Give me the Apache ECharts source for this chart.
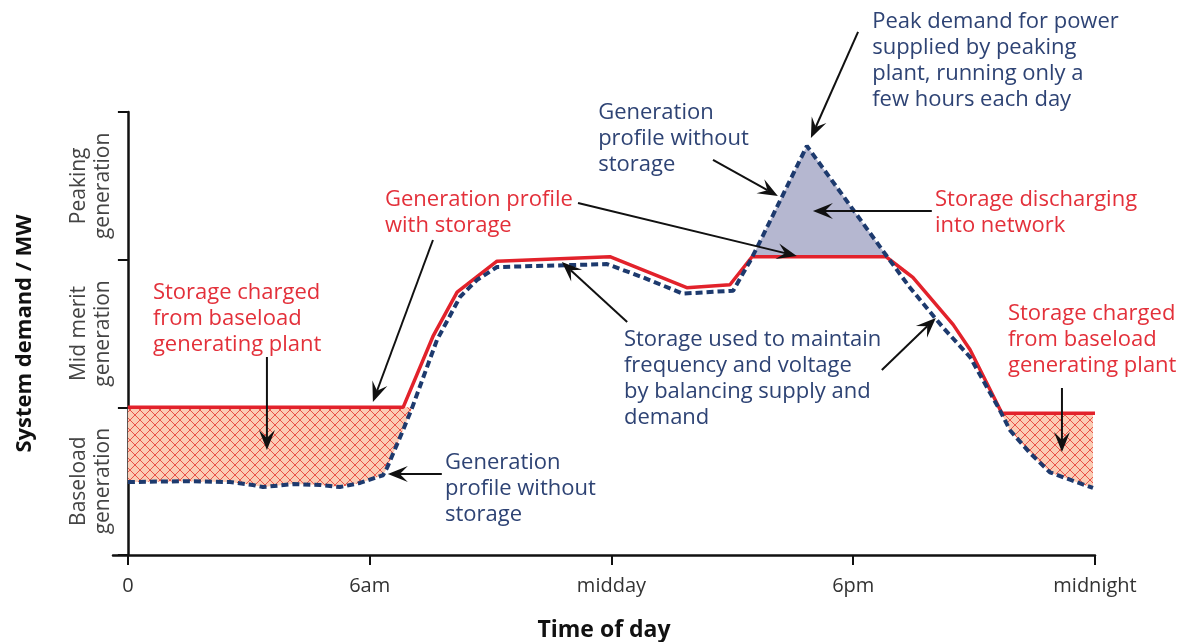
<!DOCTYPE html>
<html><head><meta charset="utf-8">
<script src="https://cdn.jsdelivr.net/npm/echarts@6/dist/echarts.min.js"></script>
<style>html,body{margin:0;padding:0;background:#fff}#c{width:1187px;height:642px}</style>
</head><body><div id="c"></div>
<script>
// ---- data ----
const xTicks = [0, 6, 12, 18, 24];
const xTickLabels = ['0', '6am', 'midday', '6pm', 'midnight'];
const yBandTicks = [0, 1, 2, 3];
const yBandCenters = [0.5, 1.5, 2.5];
const yBandLabels = ['Baseload\ngeneration', 'Mid merit\ngeneration', 'Peaking\ngeneration'];

// [hour, demand level]
const withStorage = [
  [0, 1.0], [6.83, 1.0], [7.57, 1.48], [8.17, 1.78], [9.16, 1.99], [11.96, 2.02],
  [13.87, 1.81], [14.94, 1.83], [15.49, 2.02], [18.81, 2.02], [19.24, 1.93],
  [19.48, 1.88], [20.48, 1.56], [20.9, 1.39], [21.69, 0.96], [24, 0.96]
];
const withoutStorage = [
  [0, 0.494], [1.46, 0.50], [2.53, 0.494], [3.10, 0.474], [3.35, 0.46], [4.10, 0.48],
  [4.77, 0.474], [5.26, 0.46], [5.76, 0.488], [6.33, 0.54], [6.43, 0.59], [6.83, 0.846],
  [7.05, 0.995], [7.67, 1.456], [8.24, 1.747], [8.66, 1.862], [9.16, 1.95], [11.89, 1.97],
  [12.78, 1.88], [13.77, 1.77], [15.02, 1.79], [15.44, 1.99], [15.61, 2.08], [16.85, 2.77],
  [18.79, 2.04], [19.41, 1.81], [20.23, 1.54], [20.9, 1.34], [21.64, 0.98], [21.89, 0.845],
  [22.39, 0.69], [22.88, 0.56], [23.38, 0.51], [23.95, 0.454]
];

// annotations: [text, colorKey, [hour, level] of first line's left/centre]
const notes = [
  ['Storage charged\nfrom baseload\ngenerating plant', 'red', [0.62, 1.774]],
  ['Generation profile\nwith storage', 'red', [6.38, 2.404]],
  ['Storage discharging\ninto network', 'red', [20.03, 2.404]],
  ['Storage charged\nfrom baseload\ngenerating plant', 'red', [21.84, 1.632]],
  ['Generation\nprofile without\nstorage', 'blue', [11.67, 2.993]],
  ['Peak demand for power\nsupplied by peaking\nplant, running only a\nfew hours each day', 'blue', [18.47, 3.609]],
  ['Storage used to maintain\nfrequency and voltage\nby balancing supply and\ndemand', 'blue', [12.31, 1.456]],
  ['Generation\nprofile without\nstorage', 'blue', [7.87, 0.623]]
];
const arrows = [
  [[3.45, 1.341], [3.45, 0.711]],
  [[7.57, 2.133], [6.08, 1.036]],
  [[11.17, 2.384], [16.60, 2.025]],
  [[14.52, 2.675], [16.13, 2.431]],
  [[18.12, 3.542], [16.95, 2.824]],
  [[19.95, 2.330], [17.0, 2.330]],
  [[12.39, 1.578], [10.77, 1.984]],
  [[18.71, 1.253], [20.05, 1.605]],
  [[23.18, 1.131], [23.18, 0.697]],
  [[7.79, 0.549], [6.45, 0.549]]
];

// ---- styles ----
const RED = '#e2222b', NAVY = '#1d3a6e', RED_TXT = '#e3303a', NAVY_TXT = '#2e4374';
const FONT = 'Open Sans';

// hatch pattern
const pc = document.createElement('canvas'); pc.width = pc.height = 10;
const g = pc.getContext('2d');
g.fillStyle = '#fbcdb6'; g.fillRect(0, 0, 10, 10);
g.strokeStyle = '#ea5248'; g.lineWidth = 1;
g.beginPath(); g.moveTo(-1, -1); g.lineTo(11, 11); g.moveTo(11, -1); g.lineTo(-1, 11); g.stroke();
const hatch = { image: pc, repeat: 'repeat' };

// region of a series beyond a level, closed along the level
function regionBeyond(series, level, below, xFrom, xTo) {
  const pts = [];
  const cond = v => below ? v < level : v > level;
  const inR = x => x >= xFrom && x <= xTo;
  for (let i = 0; i < series.length; i++) {
    const [x, v] = series[i];
    if (i > 0) {
      const [px, pv] = series[i - 1];
      if (cond(pv) !== cond(v)) {
        const t = (level - pv) / (v - pv);
        const cx = px + t * (x - px);
        if (inR(cx)) pts.push([cx, level]);
      }
    }
    if (cond(v) && inR(x)) pts.push([x, v]);
  }
  const f = pts[0], l = pts[pts.length - 1];
  if (f[1] !== level) pts.unshift([f[0], level]);
  if (l[1] !== level) pts.push([l[0], level]);
  return pts;
}
const leftLevel = withStorage[0][1];
const rightLevel = withStorage[withStorage.length - 1][1];
const cap = Math.max(...withStorage.map(p => p[1]));
const regions = [
  { pts: regionBeyond(withoutStorage, leftLevel, true, 0, 12), fill: hatch },
  { pts: regionBeyond(withoutStorage, rightLevel, true, 12, 24), fill: hatch },
  { pts: regionBeyond(withoutStorage, cap, false, 0, 24), fill: '#b5b7d0' }
];

const chart = echarts.init(document.getElementById('c'));
chart.setOption({
  animation: false,
  grid: { left: 113, right: 92, top: 112, bottom: 87, outerBoundsMode: 'none', containLabel: false },
  xAxis: {
    type: 'value', min: -0.37, max: 24,
    axisLine: { lineStyle: { color: '#111', width: 2.5 } },
    axisTick: { customValues: xTicks, length: 10, lineStyle: { color: '#111', width: 2 } },
    axisLabel: { customValues: xTicks, formatter: v => xTickLabels[xTicks.indexOf(v)],
      fontSize: 20, color: '#333', margin: 21, fontFamily: FONT },
    splitLine: { show: false },
    name: 'Time of day', nameLocation: 'middle', nameGap: 64, nameMoveOverlap: false,
    nameTextStyle: { fontSize: 23, fontWeight: 'bold', color: '#111', fontFamily: FONT }
  },
  yAxis: {
    type: 'value', min: 0, max: 3,
    axisLine: { show: true, onZero: true, lineStyle: { color: '#111', width: 2.5 } },
    axisTick: { show: true, customValues: yBandTicks, length: 10, lineStyle: { color: '#111', width: 2 } },
    axisLabel: { customValues: yBandCenters, formatter: v => yBandLabels[yBandCenters.indexOf(v)],
      rotate: 90, fontSize: 21, lineHeight: 24, color: '#444', margin: -2, fontFamily: FONT },
    splitLine: { show: false },
    name: 'System demand / MW', nameLocation: 'middle', nameGap: 77, nameRotate: 90, nameMoveOverlap: false,
    nameTextStyle: { fontSize: 22, fontWeight: 'bold', color: '#111', fontFamily: FONT }
  },
  series: [
    {
      type: 'custom', z: 1,
      data: regions.map((r, i) => [r.pts[0][0], r.pts[0][1], i]),
      encode: { x: 0, y: 1 },
      renderItem: (params, api) => {
        const r = regions[params.dataIndex];
        return { type: 'polygon', shape: { points: r.pts.map(p => api.coord(p)) }, style: { fill: r.fill } };
      }
    },
    {
      type: 'line', name: 'with storage', data: withStorage, showSymbol: false, z: 3,
      lineStyle: { color: RED, width: 3.5 }
    },
    {
      type: 'line', name: 'without storage', data: withoutStorage, showSymbol: false, z: 4,
      lineStyle: { color: NAVY, width: 4, type: [7, 4] }
    }
  ]
});

// ---- annotations ----
const toPx = p => chart.convertToPixel({ gridIndex: 0 }, p);
const graphic = [];
const LH = 26;
notes.forEach(([text, c, pos]) => {
  const [x, y] = toPx(pos);
  graphic.push({ type: 'text', x: x, y: y - LH / 2, z: 20,
    style: { text, fill: c === 'red' ? RED_TXT : NAVY_TXT, fontSize: 22, fontFamily: FONT,
      lineHeight: LH, align: 'left', verticalAlign: 'top' } });
});
arrows.forEach(([a, b]) => {
  const [x1, y1] = toPx(a), [x2, y2] = toPx(b);
  const dx = x2 - x1, dy = y2 - y1, len = Math.hypot(dx, dy);
  const ux = dx / len, uy = dy / len, nx = -uy, ny = ux;
  const L = 20, W = 8, N = 12;
  const bx = x2 - ux * L, by = y2 - uy * L;
  const kx = x2 - ux * N, ky = y2 - uy * N;
  graphic.push({ type: 'line', z: 20, shape: { x1, y1, x2: kx, y2: ky }, style: { stroke: '#111', lineWidth: 2 } });
  graphic.push({ type: 'polygon', z: 20, shape: { points: [[x2, y2], [bx + nx * W, by + ny * W], [kx, ky], [bx - nx * W, by - ny * W]] },
    style: { fill: '#111' } });
});
chart.setOption({ graphic });
</script>
</body></html>
